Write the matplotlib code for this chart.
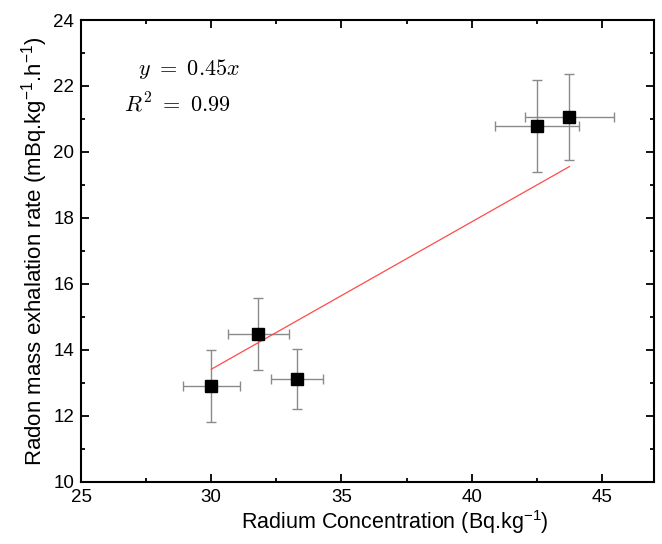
import matplotlib

matplotlib.use("Agg")

import matplotlib.pyplot as plt
import numpy as np

plt.rcParams["font.family"] = ["Liberation Sans", "DejaVu Sans"]
plt.rcParams["mathtext.fontset"] = "cm"

# values
radium = np.array([30.0, 31.8, 33.3, 42.5, 43.75])
radium_err = np.array([1.1, 1.17, 1.0, 1.6, 1.7])
exhalation = np.array([12.9, 14.48, 13.11, 20.78, 21.05])
exhalation_err = np.array([1.1, 1.1, 0.9, 1.4, 1.3])
slope = 0.447

fig = plt.figure(figsize=(6.62, 5.44), dpi=100)
ax = fig.add_axes([0.1224, 0.1145, 0.8656, 0.8487])

ax.errorbar(
    radium, exhalation, xerr=radium_err, yerr=exhalation_err,
    fmt="none", ecolor="#8a8a8a", elinewidth=1.0, capsize=3.5, capthick=1.0,
    zorder=2,
)
xfit = np.array([radium.min(), radium.max()])
ax.plot(xfit, slope * xfit, color="#ff4a4a", lw=0.9, zorder=3)
ax.plot(radium, exhalation, ls="none", marker="s", ms=8, color="black", zorder=4)

ax.set_xlim(25, 47)
ax.set_ylim(10, 24)
ax.set_xticks([25, 30, 35, 40, 45])
ax.set_xticks(np.arange(27.5, 47, 5), minor=True)
ax.set_yticks(np.arange(10, 25, 2))
ax.set_yticks(np.arange(11, 24, 2), minor=True)
ax.tick_params(which="both", direction="in", top=True, right=True, width=1.3)
ax.tick_params(which="major", length=6, labelsize=13.5, pad=5)
ax.tick_params(which="minor", length=3)
for spine in ax.spines.values():
    spine.set_linewidth(1.5)

ax.set_xlabel(r"Radium Concentration (Bq.kg$\mathregular{^{-1}}$)", fontsize=15.5)
ax.xaxis.set_label_coords(0.548, -0.058, transform=ax.transAxes)
ax.xaxis.label.set_va("top")
ax.set_ylabel(r"Radon mass exhalation rate (mBq.kg$\mathregular{^{-1}}$.h$\mathregular{^{-1}}$)",
              fontsize=16, labelpad=2)

ax.text(0.10, 0.893, r"$y\ =\ 0.45x$", transform=ax.transAxes, fontsize=16, va="center")
ax.text(0.075, 0.817, r"$R^2\ =\ 0.99$", transform=ax.transAxes, fontsize=16, va="center")

fig.savefig("out.png", dpi=100)
